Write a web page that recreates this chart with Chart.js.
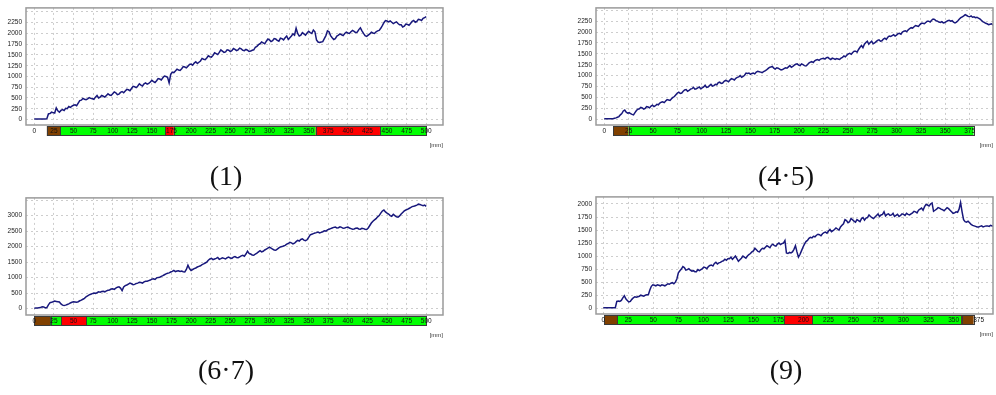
<!DOCTYPE html>
<html>
<head>
<meta charset="utf-8">
<script src="https://cdn.jsdelivr.net/npm/chart.js@4.4.0/dist/chart.umd.min.js"></script>
<style>
  body { margin: 0; background: #fff; width: 996px; height: 395px; overflow: hidden; position: relative; }
  canvas { position: absolute; }
  .cap { position: absolute; font-family: 'Liberation Serif', serif; font-size: 28px; line-height: 28px; color: #111; transform: translateX(-50%); white-space: nowrap; }
</style>
</head>
<body>
<canvas id="c1" width="450" height="150" style="left:0;top:0"></canvas>
<canvas id="c2" width="426" height="150" style="left:570px;top:0"></canvas>
<canvas id="c3" width="450" height="150" style="left:0;top:190px"></canvas>
<canvas id="c4" width="426" height="150" style="left:570px;top:189px"></canvas>
<div class="cap" style="left:226px;top:162px">(1)</div>
<div class="cap" style="left:786px;top:162px">(4·5)</div>
<div class="cap" style="left:226px;top:356px">(6·7)</div>
<div class="cap" style="left:786px;top:356px">(9)</div>
<script>
// sample spacing of each measurement, mm
const step1 = 2, step2 = 1.5, step3 = 2, step4 = 1.5;

// measured values (1)
const values1 = [
  10,10,10,10,10,10,10,10,20,130,
  140,170,160,150,270,200,170,210,230,210,
  260,250,300,280,310,330,340,320,380,440,
  450,490,470,460,480,510,490,480,470,520,
  560,500,520,560,540,520,560,600,570,560,
  600,640,620,580,590,630,650,620,660,700,
  690,670,720,770,760,740,780,830,800,780,
  830,850,820,840,870,910,880,860,900,950,
  940,920,970,1010,1000,980,850,1050,1100,1090,
  1130,1170,1150,1140,1180,1230,1220,1200,1240,1280,
  1290,1260,1310,1340,1300,1330,1360,1420,1400,1390,
  1430,1480,1460,1450,1490,1550,1530,1510,1560,1620,
  1590,1560,1570,1620,1610,1580,1600,1650,1630,1600,
  1620,1660,1640,1610,1600,1630,1610,1580,1590,1610,
  1620,1680,1700,1740,1760,1800,1780,1760,1820,1870,
  1850,1810,1830,1880,1870,1840,1820,1890,1880,1850,
  1900,1940,1860,1900,1940,1990,1960,2120,2000,1940,
  1960,2020,1990,1960,2010,2050,2020,2000,2080,2040,
  1850,1800,1790,1800,1810,1880,1950,2060,2040,1950,
  1900,1860,1880,1940,1960,1990,1970,1950,2000,2030,
  2010,2000,2040,2070,2050,2020,2030,2090,2130,2060,
  2000,1950,1930,1960,1990,2030,2010,2000,2040,2060,
  2070,2120,2180,2250,2300,2290,2270,2290,2260,2230,
  2250,2270,2230,2200,2200,2150,2170,2220,2210,2190,
  2230,2280,2300,2260,2280,2330,2320,2300,2350,2370,
  2390
];
// (4·5)
const values2 = [
  10,10,10,10,10,10,10,20,30,45,60,100,130,190,210,160,140,150,130,110,
  100,150,200,230,240,270,260,230,250,290,280,260,300,320,290,310,340,330,370,390,
  400,380,420,450,440,430,470,500,520,560,600,620,590,600,640,670,680,640,660,690,
  700,730,690,700,720,740,700,720,740,780,730,740,770,800,760,770,800,790,840,850,
  820,830,870,890,880,860,900,930,920,900,940,960,970,1000,960,980,1010,1060,1050,1060,
  1030,1050,1060,1040,1080,1100,1090,1080,1070,1090,1110,1130,1160,1190,1200,1210,1170,1150,1180,1170,
  1150,1130,1140,1160,1180,1170,1200,1230,1190,1210,1240,1260,1270,1240,1230,1270,1250,1230,1220,1250,
  1290,1310,1320,1300,1340,1360,1370,1350,1380,1390,1400,1380,1410,1420,1390,1370,1400,1390,1370,1390,
  1380,1370,1400,1420,1450,1430,1470,1500,1510,1490,1530,1560,1560,1540,1600,1650,1690,1640,1720,1760,
  1790,1720,1760,1790,1730,1750,1780,1810,1820,1790,1800,1840,1860,1830,1880,1910,1900,1920,1940,1910,
  1930,1960,1970,1950,2000,2020,2030,2010,2050,2080,2100,2090,2120,2150,2140,2130,2170,2200,2200,2190,
  2220,2250,2250,2230,2270,2300,2290,2260,2250,2230,2220,2240,2210,2220,2240,2260,2270,2250,2260,2230,
  2210,2230,2260,2300,2330,2350,2370,2400,2380,2360,2350,2370,2340,2350,2330,2340,2320,2300,2270,2240,
  2220,2200,2190,2170,2180,2190,2160
];
// (6·7)
const values3 = [
  10,15,20,25,30,60,50,20,30,120,190,200,220,240,230,220,210,150,110,100,
  110,130,150,180,200,215,210,200,220,250,270,300,330,380,410,440,460,480,500,490,
  510,540,530,550,560,540,570,590,600,630,640,620,660,690,700,660,580,700,740,760,
  790,820,800,770,780,810,820,850,840,820,860,880,880,900,920,950,960,940,990,1000,
  1010,1040,1060,1090,1120,1140,1150,1180,1200,1230,1190,1210,1220,1200,1210,1190,1180,1260,1400,1290,
  1230,1260,1290,1310,1340,1360,1380,1420,1440,1470,1500,1560,1600,1620,1580,1600,1620,1650,1590,1610,
  1640,1620,1600,1640,1660,1630,1620,1660,1680,1650,1640,1670,1700,1720,1690,1760,1850,1780,1760,1730,
  1720,1760,1790,1830,1870,1830,1850,1890,1920,1950,1980,1950,1920,1890,1880,1920,1960,1990,2000,2020,
  2040,2080,2100,2140,2120,2090,2110,2160,2200,2180,2230,2250,2210,2190,2220,2300,2380,2400,2420,2440,
  2450,2470,2440,2460,2480,2510,2500,2540,2560,2580,2600,2620,2630,2600,2610,2640,2620,2590,2600,2620,
  2630,2600,2580,2560,2570,2590,2600,2570,2560,2590,2580,2560,2550,2600,2680,2760,2820,2860,2900,2960,
  3000,3080,3150,3180,3120,3080,3050,3000,2980,3040,3000,2960,2950,2990,3050,3100,3150,3180,3200,3230,
  3260,3290,3300,3320,3340,3370,3360,3340,3320,3340,3300
];
// (9)
const values4 = [
  10,10,10,10,10,10,10,10,10,130,140,130,150,200,240,180,150,120,130,170,
  200,220,210,220,230,250,240,230,250,260,260,350,420,450,440,430,450,440,430,450,
  440,430,450,470,460,480,490,470,500,560,680,720,750,800,780,730,740,760,730,710,
  720,700,700,740,720,740,760,790,780,760,800,820,830,810,860,880,850,870,880,900,
  910,940,920,950,950,980,940,970,1000,950,900,930,960,1000,980,960,1000,1030,1050,1080,
  1100,1150,1120,1090,1080,1120,1150,1140,1170,1200,1180,1160,1210,1230,1200,1190,1230,1250,1220,1240,
  1250,1300,1060,1050,1070,1060,1080,1130,1200,1080,980,1030,1100,1170,1230,1280,1300,1340,1360,1350,
  1380,1370,1400,1420,1410,1390,1430,1450,1460,1440,1480,1510,1470,1490,1510,1540,1520,1500,1560,1590,
  1620,1700,1680,1640,1660,1720,1700,1670,1650,1700,1680,1660,1720,1740,1690,1730,1740,1790,1760,1740,
  1720,1750,1780,1810,1760,1790,1800,1850,1770,1800,1810,1780,1790,1820,1760,1780,1800,1760,1780,1810,
  1800,1780,1820,1800,1790,1810,1830,1860,1850,1830,1880,1900,1920,1880,1950,1990,1980,1960,2000,2020,
  1860,1880,1900,1930,1920,1900,1890,1870,1900,1930,1910,1880,1850,1820,1830,1850,1840,1900,2030,1850,
  1700,1660,1650,1670,1640,1610,1590,1580,1570,1560,1560,1570,1580,1560,1570,1580,1580,1570,1590,1580,
  1580
];

// zones under each trace: [from mm, to mm, kind]
const zones1 = [[16,33,'brown'],[33,167,'green'],[167,178,'red'],[178,359,'green'],[359,441,'red'],[441,500,'green']];
const zones2 = [[9,25,'brown'],[25,379,'green']];
const zones3 = [[0,21,'brown'],[21,34,'green'],[34,66,'red'],[66,500,'green']];
const zones4 = [[1,14,'brown'],[14,181,'green'],[181,209,'red'],[209,358,'green'],[358,370,'brown']];

// tick labels
const xTicks500 = [0,25,50,75,100,125,150,175,200,225,250,275,300,325,350,375,400,425,450,475,500];
const xTicks375 = [0,25,50,75,100,125,150,175,200,225,250,275,300,325,350,375];
const yTicks1 = [0,250,500,750,1000,1250,1500,1750,2000,2250];
const yTicks2 = [0,250,500,750,1000,1250,1500,1750,2000,2250];
const yTicks3 = [0,500,1000,1500,2000,2500,3000];
const yTicks4 = [0,250,500,750,1000,1250,1500,1750,2000];
// extra grid lines with no label
const yGrid1 = [2500], yGrid2 = [2500], yGrid3 = [3500], yGrid4 = [];

const ZONE_COLORS = { brown: '#804000', green: '#00ff00', red: '#ff0000' };

// colour band under the plot area
const zonePlugin = {
  id: 'zones',
  beforeDraw(chart, args, opts) {
    const ctx = chart.ctx, xs = chart.scales.x, area = chart.chartArea;
    const top = area.bottom + 1, h = 10;
    ctx.save();
    opts.list.forEach(z => {
      const x0 = xs.getPixelForValue(z[0]), x1 = xs.getPixelForValue(z[1]);
      ctx.fillStyle = ZONE_COLORS[z[2]];
      ctx.fillRect(x0, top, x1 - x0, h);
      ctx.strokeStyle = '#3a3a3a';
      ctx.lineWidth = 1;
      ctx.strokeRect(Math.round(x0) + 0.5, top + 0.5, Math.round(x1 - x0), h - 1);
    });
    ctx.restore();
  }
};

// grey box round the plot area
const framePlugin = {
  id: 'frame',
  afterDraw(chart) {
    const ctx = chart.ctx, a = chart.chartArea;
    ctx.save();
    ctx.strokeStyle = '#9a9a9a';
    ctx.lineWidth = 1.5;
    ctx.strokeRect(a.left, a.top, a.right - a.left, a.bottom - a.top);
    ctx.restore();
  }
};

function makePanel(id, step, values, xMin, xMax, yMin, yMax, xTicks, yTicks, yGrid, zones, padRight) {
  const pts = values.map((v, i) => ({ x: i * step, y: v }));
  const tickFont = { family: 'Liberation Sans', size: 6.5 };
  new Chart(document.getElementById(id), {
    type: 'line',
    data: { datasets: [{ data: pts, borderColor: '#18187c', borderWidth: 1.5, pointRadius: 0, tension: 0 }] },
    options: {
      responsive: false,
      animation: false,
      devicePixelRatio: 1,
      layout: { padding: { left: 0, top: 4, right: padRight, bottom: 0 } },
      plugins: { legend: { display: false }, tooltip: { enabled: false }, zones: { list: zones } },
      scales: {
        x: {
          type: 'linear', min: xMin, max: xMax,
          afterBuildTicks: s => { s.ticks = xTicks.map(v => ({ value: v })); },
          afterFit: s => { s.height = 25; },
          ticks: { autoSkip: false, maxRotation: 0, font: tickFont, color: '#111', padding: 2 },
          grid: { color: '#cdcdcd', drawTicks: false },
          border: { display: false, dash: [2, 3] },
          title: { display: true, text: '[mm]', align: 'end', font: { family: 'Liberation Sans', size: 6 }, color: '#333', padding: { top: 0, bottom: 1 } }
        },
        y: {
          min: yMin, max: yMax,
          afterBuildTicks: s => { s.ticks = yTicks.concat(yGrid).map(v => ({ value: v })); },
          afterFit: s => { s.width = 26; },
          ticks: { autoSkip: false, font: tickFont, color: '#222', padding: 4,
                   callback: v => yTicks.includes(v) ? String(v) : '' },
          grid: { color: '#cdcdcd', drawTicks: false },
          border: { display: false, dash: [2, 3] }
        }
      }
    },
    plugins: [zonePlugin, framePlugin]
  });
}

makePanel('c1', step1, values1, -10.6, 521.4, -128, 2594, xTicks500, yTicks1, yGrid1, zones1, 7);
makePanel('c2', step2, values2, -8.5, 399, -133, 2554, xTicks375, yTicks2, yGrid2, zones2, 3);
makePanel('c3', step3, values3, -10.6, 521.4, -209, 3572, xTicks500, yTicks3, yGrid3, zones3, 7);
makePanel('c4', step4, values4, -7.3, 389.4, -111, 2136, xTicks375, yTicks4, yGrid4, zones4, 3);
</script>
</body>
</html>
